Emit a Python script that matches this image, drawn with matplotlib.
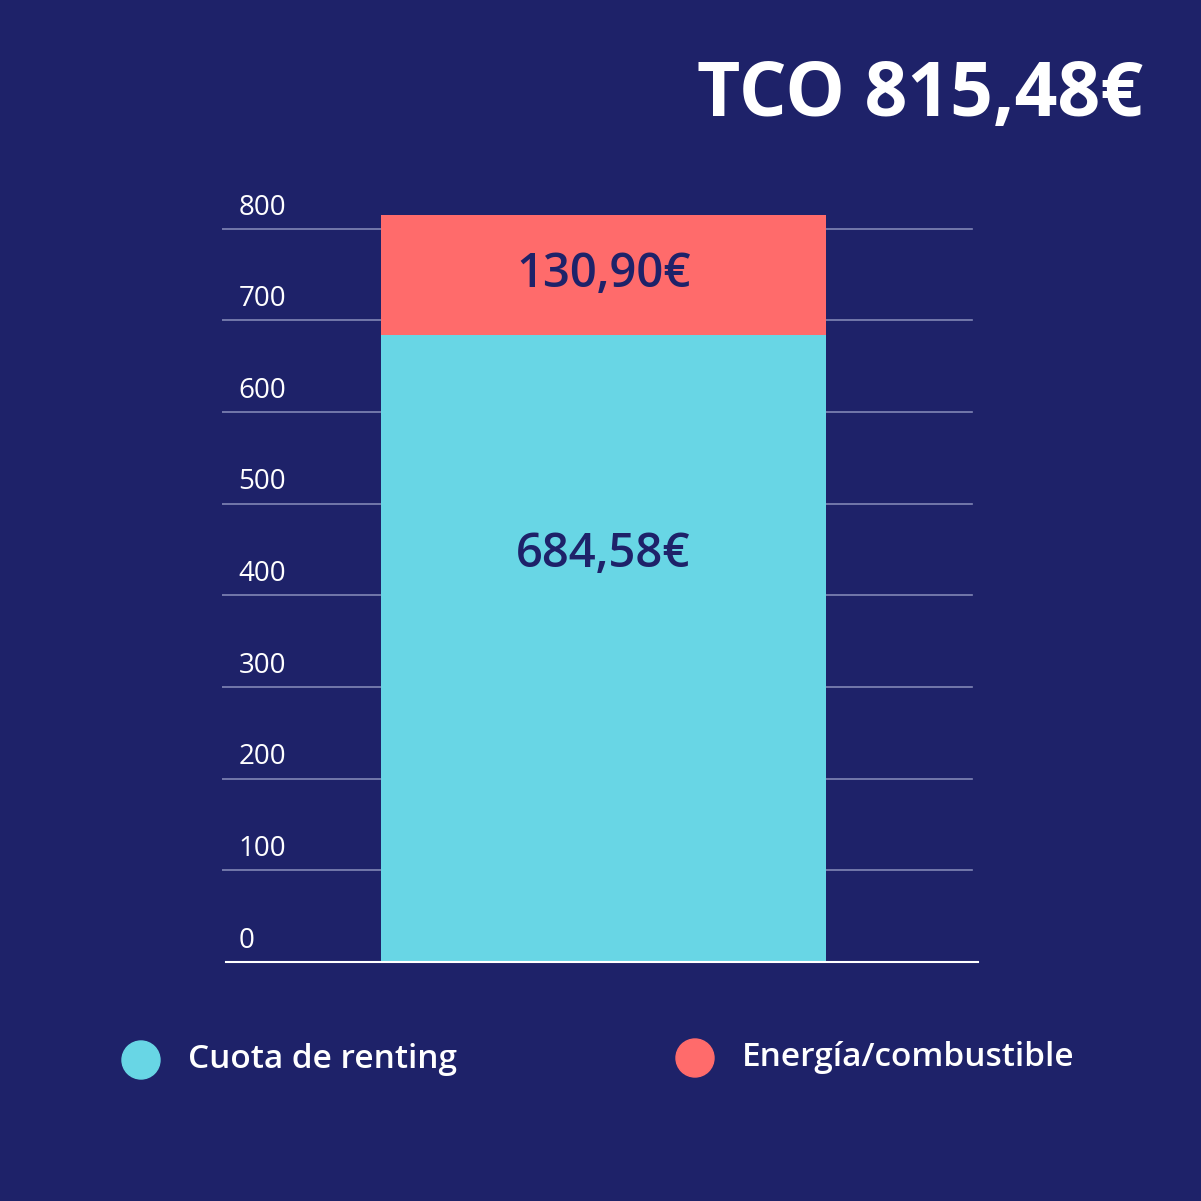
import matplotlib.pyplot as plt
from matplotlib.transforms import blended_transform_factory

categories = ['Cuota de renting', 'Energía/combustible']
values = [684.58, 130.90]
value_labels = ['684,58€', '130,90€']
total_label = 'TCO 815,48€'
yticks = [0, 100, 200, 300, 400, 500, 600, 700, 800]

bg = '#1E2269'
colors = ['#68D6E5', '#FF6B6B']

plt.rcParams['font.family'] = ['Open Sans', 'DejaVu Sans']

fig = plt.figure(figsize=(12.01, 12.01), dpi=100, facecolor=bg)
ax = fig.add_axes([0.1848, 0.199, 0.627, 0.6486])
ax.set_facecolor(bg)
ax.set_xlim(0, 1)
ax.set_ylim(0, 850)
for s in ax.spines.values():
    s.set_visible(False)
ax.set_xticks([])
ax.set_yticks([])

trans = blended_transform_factory(ax.transAxes, ax.transData)
for t in yticks:
    if t == 0:
        ax.plot([0.005, 1.004], [t, t], color='white', lw=1.5, transform=trans, clip_on=False, zorder=5)
    else:
        ax.plot([0, 0.996], [t, t], color='#9AA0C8', lw=1.2, alpha=0.8, transform=trans, zorder=1)
    ax.text(0.022, t + 8, str(t), color='white', fontsize=20, transform=trans, va='bottom', ha='left')

bottom = 0
for v, c in zip(values, colors):
    ax.bar(0.5066, v, width=0.591, bottom=bottom, color=c, zorder=3)
    bottom += v

ax.text(0.5066, 445, value_labels[0], color=bg, fontsize=34, fontweight='semibold', ha='center', va='center', zorder=4)
ax.text(0.5066, values[0] + values[1] / 2, value_labels[1], color=bg, fontsize=34, fontweight='semibold', ha='center', va='center', zorder=4)

fig.text(1143 / 1201, 1 - 97 / 1201, total_label, color='white', fontsize=54, fontweight='bold', ha='right', va='center')

for (cx, cy), name, c in zip([(141, 1060), (695, 1058)], categories, colors):
    fig.patches.append(plt.Circle((cx / 1201, 1 - cy / 1201), 19 / 1201, color=c, transform=fig.transFigure))
    fig.text((cx + 47) / 1201, 1 - cy / 1201, name, color='white', fontsize=24, fontweight='semibold', ha='left', va='center')

fig.savefig('out.png', dpi=100, facecolor=bg)
